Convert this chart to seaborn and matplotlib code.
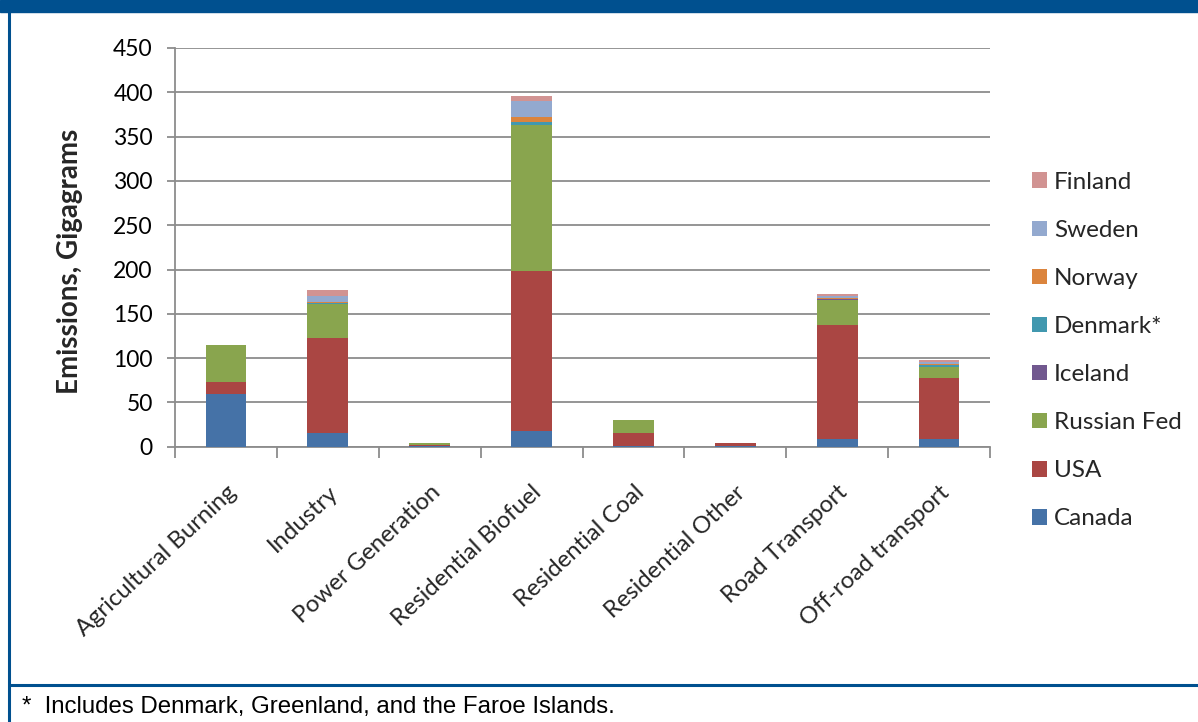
import numpy as np
import matplotlib
matplotlib.use("Agg")
import matplotlib.pyplot as plt
import seaborn as sns

# Sources of emissions (x axis)
categories = ["Agricultural Burning", "Industry", "Power Generation",
              "Residential Biofuel", "Residential Coal", "Residential Other",
              "Road Transport", "Off-road transport"]

# Emissions per country, Gigagrams (stacked bottom to top)
canada  = [59.0, 15.0, 0.3, 18.0, 0.5, 0.5,   9.0, 9.0]
usa     = [13.5, 108.0, 2.0, 180.0, 15.5, 3.2, 128.0, 69.0]
russia  = [42.5, 37.5, 1.5, 165.0, 14.5, 0.5,  29.0, 12.0]
iceland = [0.0, 0.3, 0.0, 0.5, 0.0, 0.0, 0.3, 0.3]
denmark = [0.0, 1.5, 0.0, 3.0, 0.0, 0.0, 0.7, 1.5]
norway  = [0.0, 1.5, 0.0, 6.0, 0.0, 0.0, 1.0, 1.5]
sweden  = [0.0, 6.5, 0.0, 17.5, 0.0, 0.0, 2.5, 2.0]
finland = [0.0, 6.0, 0.0, 6.0, 0.0, 0.0, 1.5, 2.0]

series_names = ["Canada", "USA", "Russian Fed", "Iceland", "Denmark*",
                "Norway", "Sweden", "Finland"]
series_values = [canada, usa, russia, iceland, denmark, norway, sweden, finland]
series_colors = ["#4572A7", "#AA4643", "#89A54E", "#71588F", "#4198AF",
                 "#DB843D", "#93A9CF", "#D19392"]

y_ticks = list(range(0, 451, 50))
footnote = "*  Includes Denmark, Greenland, and the Faroe Islands."

sns.set_theme(style="white")
plt.rcParams["font.family"] = ["Lato", "DejaVu Sans"]

W, H = 1198, 722
fig = plt.figure(figsize=(W / 100, H / 100), dpi=100)
ax = fig.add_axes([175 / W, 1 - 446.7 / H, (990 - 175) / W, (446.7 - 48) / H])

grid_color = "#8C8C8C"
bottom = np.zeros(len(categories))
for name, vals, col in zip(series_names, series_values, series_colors):
    vals = np.asarray(vals, dtype=float)
    sns.barplot(x=categories, y=vals, bottom=bottom, color=col, width=0.4,
                saturation=1, linewidth=0, ax=ax, label=name, zorder=3)
    bottom = bottom + vals

ax.set_ylim(0, 450)
ax.set_xlim(-0.5, len(categories) - 0.5)
ax.set_yticks(y_ticks)
ax.set_yticklabels([str(t) for t in y_ticks], fontsize=16.5)
ax.yaxis.grid(True, color=grid_color, linewidth=1.3, zorder=0)
ax.set_axisbelow(True)
for s in ["top", "right"]:
    ax.spines[s].set_visible(False)
for s in ["left", "bottom"]:
    ax.spines[s].set_color(grid_color)
    ax.spines[s].set_linewidth(1.3)
ax.tick_params(axis="y", which="major", left=True, length=6, width=1.3,
               color=grid_color, pad=10, labelcolor="black")

# category boundary ticks on the x axis
ax.set_xticks(np.arange(-0.5, len(categories), 1.0), minor=True)
ax.tick_params(axis="x", which="minor", bottom=True, length=8, width=1.3,
               color=grid_color, direction="out")
ax.set_xticks(np.arange(len(categories)))
ax.tick_params(axis="x", which="major", bottom=False, pad=4)
ax.set_xticklabels(categories, rotation=43, ha="right", va="top",
                   rotation_mode="anchor", fontsize=17.2)
for lbl in ax.get_xticklabels():
    lbl.set_transform(lbl.get_transform() +
                      matplotlib.transforms.ScaledTranslation(0.0, -0.21, fig.dpi_scale_trans))

ax.set_xlabel("")
ax.set_ylabel("Emissions, Gigagrams", fontsize=20, fontweight="bold")
ax.yaxis.set_label_coords(-0.113, 0.466)

# legend, top entry = last stacked series
h, l = ax.get_legend_handles_labels()
leg = ax.legend(h[::-1], l[::-1], loc="center left", bbox_to_anchor=(1.025, 0.241),
                frameon=False, fontsize=17.5, handlelength=0.6, handleheight=0.6,
                handletextpad=0.3, labelspacing=1.115)

# frame: header band, left border, footer separator
blue = "#00508F"
fig.patches.append(matplotlib.patches.Rectangle((0, 1 - 12 / H), 1, 12 / H,
                   transform=fig.transFigure, color=blue, zorder=0))
fig.add_artist(matplotlib.lines.Line2D([8.5 / W, 8.5 / W], [0, 1], color=blue,
               linewidth=2.2, transform=fig.transFigure))
fig.add_artist(matplotlib.lines.Line2D([8.5 / W, 1], [1 - 685 / H, 1 - 685 / H],
               color=blue, linewidth=2.2, transform=fig.transFigure))
fig.text(22 / W, 1 - 707 / H, footnote, fontsize=17.3, family=["Liberation Sans"],
         va="center", ha="left", color="black")

fig.savefig("out.png", dpi=100)
